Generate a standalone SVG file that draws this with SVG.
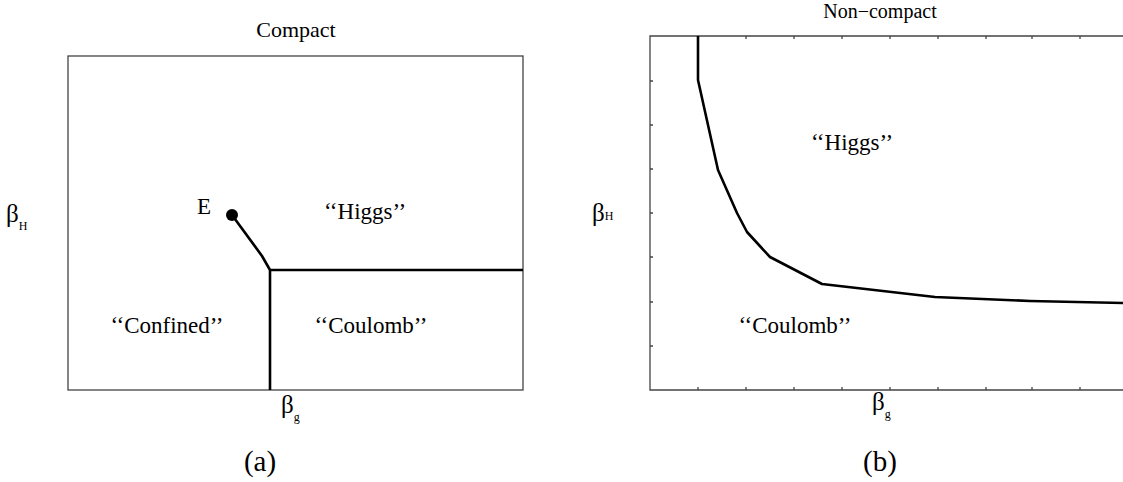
<svg xmlns="http://www.w3.org/2000/svg" width="1123" height="482" viewBox="0 0 1123 482">
<style>
text{font-family:"Liberation Serif","Times New Roman",serif;fill:#000}
.t{font-size:22px}
.t2{font-size:20px}
.l{font-size:23px}
.b{font-size:25px}
.s{font-size:12px}
.c{font-size:29px}
.frame{fill:none;stroke:#444;stroke-width:1.3}
.tick{stroke:#444;stroke-width:1.3}
.line{fill:none;stroke:#000;stroke-width:2.6;stroke-linejoin:round}
</style>
<rect width="1123" height="482" fill="#fff"/>
<g id="panel-a">
<rect class="frame" x="68" y="56" width="455" height="334"/>
<text class="t" x="296" y="37" text-anchor="middle">Compact</text>
<text class="b" x="6" y="222">β<tspan class="s" dy="8">H</tspan></text>
<text class="b" x="281" y="413">β<tspan class="s" dy="8">g</tspan></text>
<g id="E"><circle cx="232" cy="215" r="6" fill="#000"/><text class="l" x="197" y="214">E</text></g>
<text class="l" x="365" y="219" text-anchor="middle">‘‘Higgs’’</text>
<text class="l" x="167" y="333" text-anchor="middle">‘‘Confined’’</text>
<text class="l" x="371" y="333" text-anchor="middle">‘‘Coulomb’’</text>
<text class="c" x="260" y="471" text-anchor="middle">(a)</text>
</g>
<g id="panel-b">
<path class="frame" d="M1123,36 H650 V390 H1123"/>
<g class="tick">
<path d="M650,81h3M650,125h3M650,169h3M650,213h3M650,257h3M650,302h3M650,346h3"/>
<path d="M698,390v-3M746,390v-3M794,390v-3M842,390v-3M890,390v-3M938,390v-3M986,390v-3M1032,390v-3M1080,390v-3"/>
<path d="M746,36v3M794,36v3M842,36v3M890,36v3M938,36v3M986,36v3M1032,36v3M1080,36v3"/>
</g>
<text class="t2" x="880" y="18" text-anchor="middle">Non−compact</text>
<text class="b" x="592" y="221">β<tspan class="s" dy="-1">H</tspan></text>
<text class="b" x="872" y="410">β<tspan class="s" dy="8">g</tspan></text>
<text class="l" x="852" y="150" text-anchor="middle">‘‘Higgs’’</text>
<text class="l" x="795" y="333" text-anchor="middle">‘‘Coulomb’’</text>
<text class="c" x="880" y="471" text-anchor="middle">(b)</text>
</g>
<g id="connectors">
<path class="line" d="M232,215 L262,256 L270,270 L523,270 M270,270 V390"/>
<path class="line" d="M698,36 V80 L718,170 L737,213 L747,232 L770,257 L822,284 L935,297 L1030,301 L1123,303"/>
</g>
</svg>
